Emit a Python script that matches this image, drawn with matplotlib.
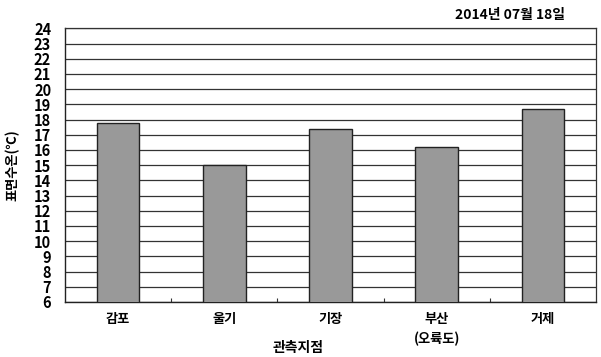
import matplotlib
matplotlib.use("Agg")
import matplotlib.pyplot as plt
import numpy as np

plt.rcParams['font.family'] = ['Noto Sans CJK KR', 'DejaVu Sans']

categories = ['감포', '울기', '기장', '부산\n(오륙도)', '거제']
values = [17.8, 15.0, 17.4, 16.2, 18.7]
yticks = list(range(6, 25))

fig = plt.figure(figsize=(6.01, 3.57), dpi=100)
W, H = 601, 357
ax = fig.add_axes([65 / W, 1 - 302 / H, (596 - 65) / W, (302 - 28.3) / H])

x = np.arange(len(categories))
ax.set_axisbelow(True)
ax.yaxis.grid(True, color='#333333', linewidth=0.9)
ax.bar(x, values, width=0.4, color='#999999', edgecolor='#222222', linewidth=1.0, zorder=3)

ax.set_xlim(-0.5, len(categories) - 0.5)
ax.set_ylim(6, 24)
ax.set_yticks(yticks)
ax.set_yticklabels([str(v) for v in yticks], fontsize=10.5, fontweight='bold')
ax.tick_params(axis='y', length=0, pad=10)
ax.set_xticks(x)
ax.set_xticklabels(categories, fontsize=9.5, fontweight='bold', linespacing=1.5, va='top')
ax.tick_params(axis='x', which='major', length=0, pad=7)
ax.set_xticks(np.arange(0.5, len(categories) - 1, 1.0), minor=True)
ax.tick_params(axis='x', which='minor', direction='in', length=3, width=0.8, color='#333333')

for s in ['left', 'bottom']:
    ax.spines[s].set_color('#222222')
    ax.spines[s].set_linewidth(1.0)
for s in ['top', 'right']:
    ax.spines[s].set_color('#333333')
    ax.spines[s].set_linewidth(0.9)

fig.text(12 / W, 1 - 165 / H, '표면수온(℃)', rotation=90, ha='center', va='center',
         fontsize=9.5, fontweight='bold')
fig.text(298 / W, 1 - 348 / H, '관측지점', ha='center', va='center',
         fontsize=10, fontweight='bold')
fig.text(565 / W, 1 - 15 / H, '2014년 07월 18일', ha='right', va='center',
         fontsize=10, fontweight='bold')

fig.savefig('out.png', dpi=100)
